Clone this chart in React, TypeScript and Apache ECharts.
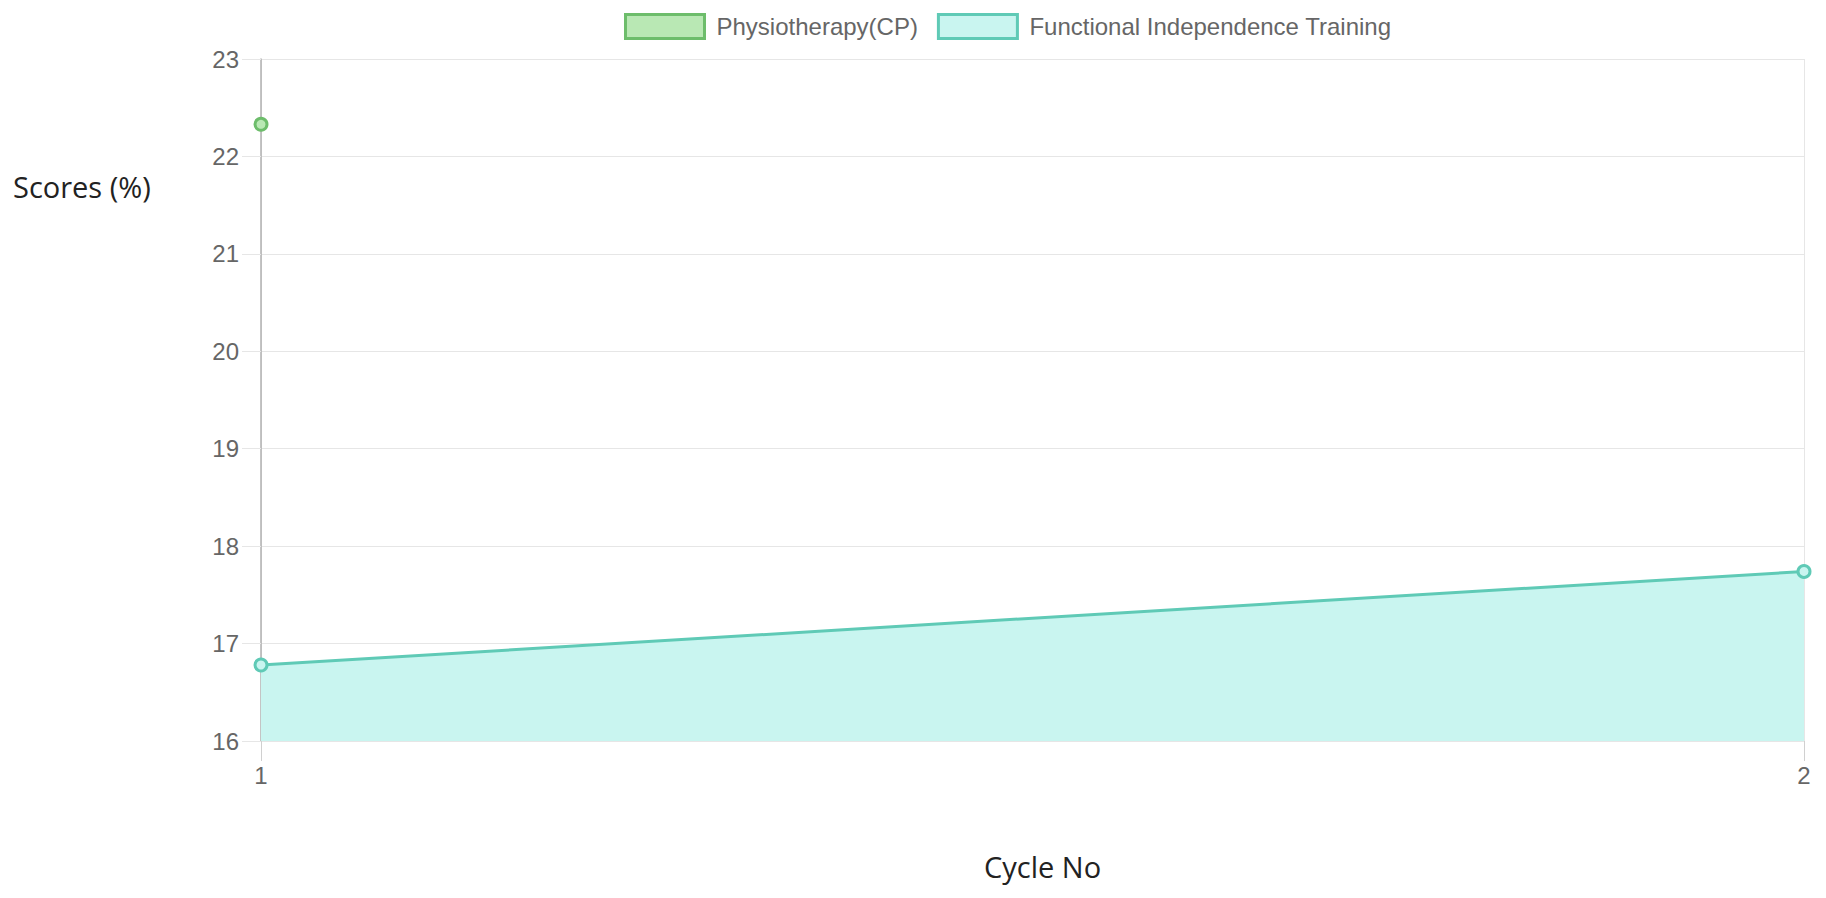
import React, { useEffect, useRef } from "react";
import * as echarts from "echarts";

const cycles = ["1", "2"];
const physiotherapy = [22.33, null];
const functionalTraining = [16.78, 17.74];
const seriesNames = ["Physiotherapy(CP)", "Functional Independence Training"];

export default function App() {
  const ref = useRef<HTMLDivElement>(null);
  useEffect(() => {
    if (!ref.current) return;
    const chart = echarts.init(ref.current, null, { renderer: "svg" });
    const tickFont = { fontFamily: "'Liberation Sans', Arial, sans-serif", fontSize: 24, color: "#666" };
    chart.setOption({
      animation: false,
      grid: { left: 261, right: 22, top: 59, bottom: 157 },
      legend: {
        top: 8,
        left: 619,
        icon: "rect",
        itemWidth: 79,
        itemHeight: 24,
        itemGap: 19,
        textStyle: { ...tickFont, padding: [0, 0, 0, 7] },
        data: [
          { name: seriesNames[0], itemStyle: { color: "#b9e8b4", borderColor: "#6dbd6b", borderWidth: 3 } },
          { name: seriesNames[1], itemStyle: { color: "#c9f5f0", borderColor: "#5fcab6", borderWidth: 3 } },
        ],
      },
      xAxis: {
        type: "category",
        data: cycles,
        boundaryGap: false,
        axisLine: { show: false },
        axisTick: { show: true, length: 20, lineStyle: { color: "#d0d0d0", width: 1 } },
        axisLabel: { ...tickFont, margin: 22 },
        splitLine: { show: true, lineStyle: { color: "#e6e6e6", width: 1 } },
      },
      yAxis: {
        type: "value",
        min: 16,
        max: 23,
        interval: 1,
        axisLine: { show: true, lineStyle: { color: "#b0b0b0", width: 1.5 } },
        axisTick: { show: true, length: 19, lineStyle: { color: "#e6e6e6" } },
        axisLabel: { ...tickFont, margin: 22 },
        splitLine: { show: true, lineStyle: { color: "#e6e6e6", width: 1 } },
      },
      graphic: [
        {
          type: "text",
          left: 13,
          top: 172,
          style: { text: "Scores (%)", font: "29px 'Open Sans', sans-serif", fill: "#222" },
        },
        {
          type: "text",
          left: 984,
          top: 852,
          style: { text: "Cycle No", font: "29px 'Open Sans', sans-serif", fill: "#222" },
        },
      ],
      series: [
        {
          name: seriesNames[0],
          type: "line",
          data: physiotherapy,
          symbol: "circle",
          symbolSize: 12,
          showSymbol: true,
          lineStyle: { color: "#6dbd6b", width: 3 },
          itemStyle: { color: "#b9e8b4", borderColor: "#6dbd6b", borderWidth: 3 },
          areaStyle: { color: "#b9e8b4", opacity: 0.6 },
          z: 3,
        },
        {
          name: seriesNames[1],
          type: "line",
          data: functionalTraining,
          symbol: "circle",
          symbolSize: 12,
          showSymbol: true,
          lineStyle: { color: "#5fcab6", width: 3 },
          itemStyle: { color: "#c9f5f0", borderColor: "#5fcab6", borderWidth: 3 },
          areaStyle: { color: "#c9f5f0", opacity: 1 },
          z: 2,
        },
      ],
    });
    return () => chart.dispose();
  }, []);
  return <div ref={ref} style={{ position: "absolute", left: 0, top: 0, width: 1826, height: 898 }} />;
}
